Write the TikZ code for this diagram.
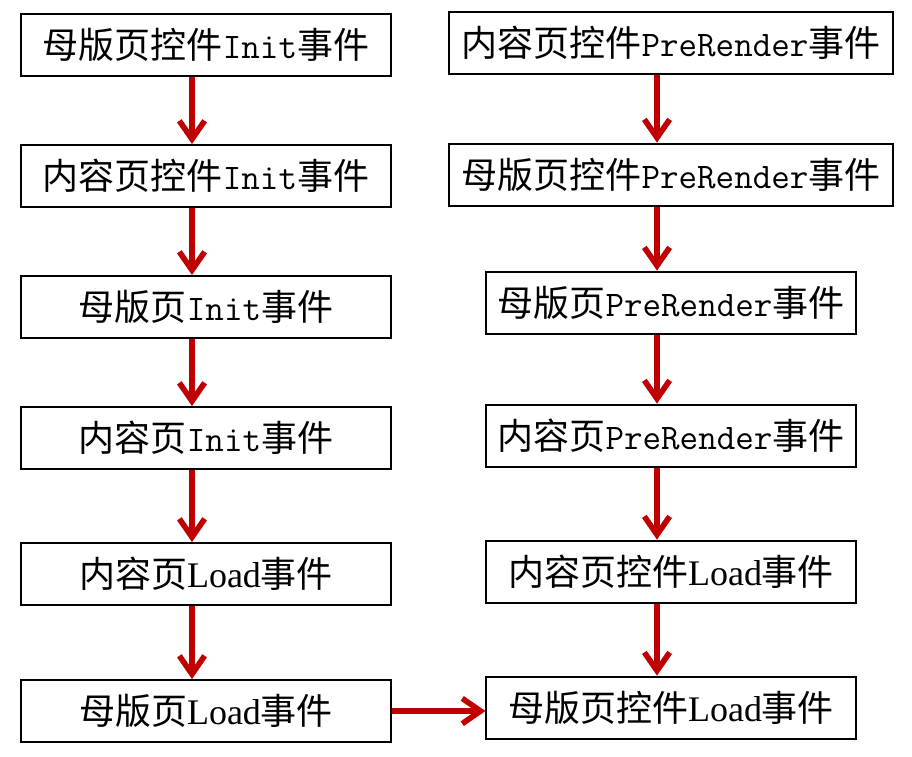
\documentclass[tikz,border=0pt]{standalone}
\usepackage{fontspec}
\setmainfont{Liberation Serif}
\newfontfamily\cjk{Noto Sans CJK SC}
\usepackage{tikz}
\usetikzlibrary{arrows.meta, positioning}
\definecolor{arrowred}{RGB}{192,0,0}
\newcommand{\mono}[1]{{\ttfamily #1}}
\newcommand{\lat}[1]{{\rmfamily #1}}

\begin{document}
\begin{tikzpicture}[
    x=0.025cm, y=-0.025cm,
    node distance=1.675cm,
    box/.style={rectangle, draw, line width=1.4pt, minimum width=9.225cm, minimum height=1.55cm, inner sep=0pt, align=center, font=\cjk\fontsize{25.6}{30}\selectfont},
    widebox/.style={box, minimum width=11.1cm},
    arrow/.style={-{Straight Barb[length=13pt,width=18pt]}, line width=4pt, arrowred}
]
\useasboundingbox (0,0) rectangle (912,756);

% left column
\node[box] (mcInit) at (206,45) {母版页控件\mono{Init}事件};
\node[box, below=of mcInit] (ccInit) {内容页控件\mono{Init}事件};
\node[box, below=of ccInit] (mInit) {母版页\mono{Init}事件};
\node[box, below=of mInit] (cInit) {内容页\mono{Init}事件};
\node[box, below=1.8cm of cInit] (cLoad) {内容页\lat{Load}事件};
\node[box, below=1.825cm of cLoad] (mLoad) {母版页\lat{Load}事件};

% right column
\node[widebox] (ccPre) at (671,43) {内容页控件\mono{PreRender}事件};
\node[widebox, below=1.69cm of ccPre] (mcPre) {母版页控件\mono{PreRender}事件};
\node[box, below=1.6cm of mcPre] (mPre) {母版页\mono{PreRender}事件};
\node[box, below=1.725cm of mPre] (cPre) {内容页\mono{PreRender}事件};
\node[box, below=1.8cm of cPre] (ccLoad) {内容页控件\lat{Load}事件};
\node[box, below=1.8cm of ccLoad] (mcLoad) {母版页控件\lat{Load}事件};

\draw[arrow] ([xshift=-0.35cm]mcInit.south) -- ([xshift=-0.35cm]mcInit.south |- ccInit.north);
\draw[arrow] ([xshift=-0.35cm]ccInit.south) -- ([xshift=-0.35cm]ccInit.south |- mInit.north);
\draw[arrow] ([xshift=-0.35cm]mInit.south) -- ([xshift=-0.35cm]mInit.south |- cInit.north);
\draw[arrow] ([xshift=-0.35cm]cInit.south) -- ([xshift=-0.35cm]cInit.south |- cLoad.north);
\draw[arrow] ([xshift=-0.35cm]cLoad.south) -- ([xshift=-0.35cm]cLoad.south |- mLoad.north);
\draw[arrow] (mLoad.east) -- (mLoad.east -| mcLoad.west);

\draw[arrow] ([xshift=-0.35cm]ccPre.south) -- ([xshift=-0.35cm]ccPre.south |- mcPre.north);
\draw[arrow] ([xshift=-0.35cm]mcPre.south) -- ([xshift=-0.35cm]mcPre.south |- mPre.north);
\draw[arrow] ([xshift=-0.35cm]mcPre.south |- mPre.south) -- ([xshift=-0.35cm]mcPre.south |- cPre.north);
\draw[arrow] ([xshift=-0.35cm]mcPre.south |- cPre.south) -- ([xshift=-0.35cm]mcPre.south |- ccLoad.north);
\draw[arrow] ([xshift=-0.35cm]mcPre.south |- ccLoad.south) -- ([xshift=-0.35cm]mcPre.south |- mcLoad.north);
\end{tikzpicture}
\end{document}
